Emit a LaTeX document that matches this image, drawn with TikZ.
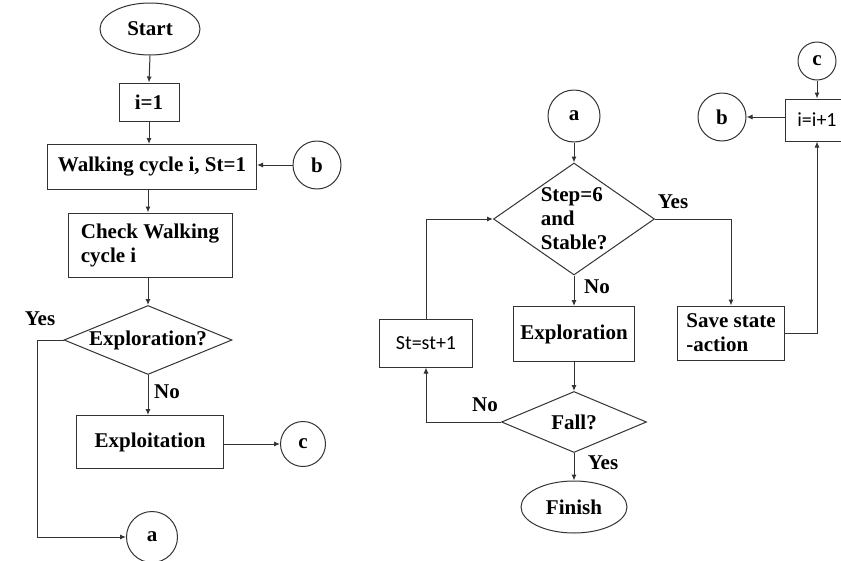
\documentclass[tikz,border=0pt]{standalone}
\usepackage{fontspec}
\setmainfont{Liberation Serif}
\newfontfamily\sansf{Carlito}
\usetikzlibrary{shapes.geometric,arrows.meta}
\begin{document}
\begin{tikzpicture}[x=1pt,y=-1pt,
  every node/.style={inner sep=0pt,font=\fontsize{21}{24}\selectfont\bfseries},
  ln/.style={draw=black!80,line width=1pt},
  arr/.style={ln,-{Latex[length=6pt,width=5pt]}},
  boxn/.style={draw=black!80,line width=1pt,rectangle},
  term/.style={draw=black!80,line width=1pt,ellipse},
  conn/.style={draw=black!80,line width=1pt,circle},
  dec/.style={draw=black!80,line width=1pt,diamond},
  lab/.style={font=\fontsize{21}{24}\selectfont\bfseries},
  snode/.style={font=\fontsize{20}{24}\selectfont\sansf}
]
\useasboundingbox (0,0) rectangle (841,560);
\clip (0,0) rectangle (841,560);
% ---- left chart ----
\node[term,minimum width=100,minimum height=52] (start) at (150,29) {Start};
\node[boxn,minimum width=60,minimum height=38] (i1) at (149,102) {i=1};
\node[boxn,minimum width=209,minimum height=45] (walk) at (152,167) {Walking cycle i, St=1};
\node[conn,minimum size=48] (b1) at (317,165) {b};
\node[boxn,minimum width=164,minimum height=64,align=left] (check) at (150,245) {Check Walking\\cycle i};
\node[dec,minimum width=168,minimum height=69,label=center:{Exploration?}] (explq) at (148,340) {};
\node[boxn,minimum width=147,minimum height=53] (exploit) at (150,442) {Exploitation};
\node[conn,minimum size=45] (c1) at (303,444) {c};
\node[conn,minimum size=51] (a1) at (152,537) {a};
\coordinate (yl) at (37,340);
\node[lab] (yes1) at (40,319) {Yes};
\node[lab] (no1) at (167,392) {No};

\draw[arr] (start.south) -- (i1.north);
\draw[arr] (i1.south -| walk.north) ++(-3,0) coordinate (w1) -- (w1 |- walk.north);
\draw[arr] (b1.west) -- (b1.west -| walk.east);
\draw[arr] (check.north |- walk.south) ++(-2,0) coordinate (w2) -- (w2 |- check.north);
\draw[arr] (explq.north |- check.south) -- (explq.north);
\draw[arr] (explq.west) -- (yl) |- (a1.west);
\draw[arr] (explq.south) -- (explq.south |- exploit.north);
\draw[arr] (exploit.east |- c1.west) -- (c1.west);

% ---- right chart ----
\node[conn,minimum size=52] (a2) at (574,116) {a};
\node[dec,minimum width=161,minimum height=112,label={[align=left]center:{Step=6\\and\\Stable?}}] (stepq) at (574,219) {};
\node[boxn,minimum width=121,minimum height=55] (explr) at (574,334) {Exploration};
\node[dec,minimum width=145,minimum height=61,label=center:{Fall?}] (fallq) at (574,422) {};
\node[term,minimum width=106,minimum height=52] (finish) at (574,507) {Finish};
\node[boxn,snode,minimum width=93,minimum height=48] (st) at (426,343) {St=st+1};
\node[boxn,minimum width=107,minimum height=54,align=left] (save) at (731,333) {Save state\\-action};
\node[boxn,snode,minimum width=64,minimum height=42] (inc) at (817,120) {i=i+1};
\node[conn,minimum size=38] (c2) at (817,61) {c};
\node[conn,minimum size=48] (b2) at (722,117) {b};
\node[lab] (yes2) at (673,202) {Yes};
\node[lab] (no2) at (597,287) {No};
\node[lab] (no3) at (485,405) {No};
\node[lab] (yes3) at (603,463) {Yes};

\draw[arr] (a2.south) -- (stepq.north);
\draw[arr] (stepq.east) -| (save.north);
\draw[arr] (stepq.south) -- (explr.north);
\draw[arr] (explr.south) -- (fallq.north);
\draw[arr] (fallq.west) -| (st.south);
\draw[arr] (st.north) |- (stepq.west);
\draw[arr] (fallq.south) -- (finish.north);
\draw[arr] (save.east) -| (inc.south);
\draw[arr] (c2.south) -- (inc.north);
\draw[arr] (b2.east -| inc.west) -- (b2.east);
\end{tikzpicture}
\end{document}
